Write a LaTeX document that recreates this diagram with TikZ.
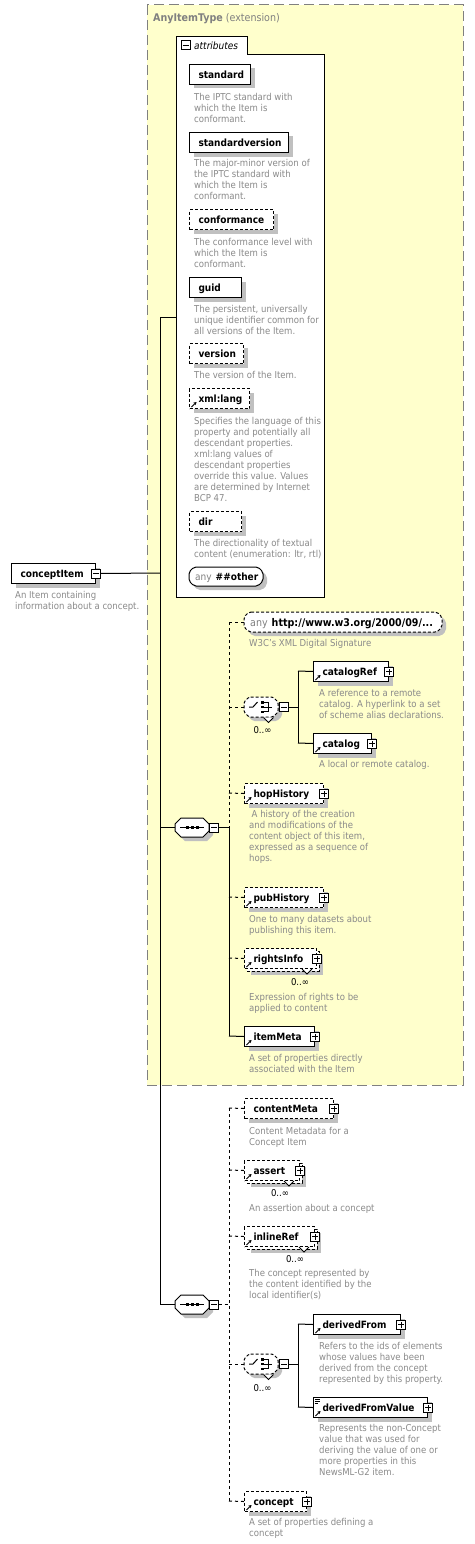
\documentclass[tikz,border=0pt]{standalone}
\usepackage{fontspec}
\setmainfont{DejaVu Sans Condensed}
\usetikzlibrary{shadows,arrows.meta,fit}
\definecolor{ylw}{HTML}{FFFFCC}
\definecolor{shd}{HTML}{C0C0C0}
\definecolor{dtxt}{HTML}{8A8A8A}
\definecolor{frm}{HTML}{808080}
\newcommand\ttlfont{\fontsize{10}{12}\selectfont\bfseries}
\newcommand\dscfont{\fontsize{9.5}{11}\selectfont}
\pgfdeclarelayer{yel}
\pgfdeclarelayer{lines}
\pgfsetlayers{yel,lines,main}
\tikzset{
 shadowed/.style={general shadow={fill=shd, shadow xshift=4pt, shadow yshift=-4pt}},
 elem/.style={draw, fill=white, line width=1pt, inner xsep=9pt, inner ysep=0pt, text height=9pt, text depth=1pt, font=\ttlfont, align=left, anchor=north west},
 opt/.style={dash pattern=on 3pt off 2pt},
 dsc/.style={inner sep=0pt, anchor=north west, align=left, font=\dscfont, text=dtxt},
 conn/.style={line width=1pt},
 oconn/.style={line width=1pt, dash pattern=on 3pt off 3pt},
 pm/.style={draw, fill=white, line width=1pt, minimum size=9pt, inner sep=0pt, outer sep=0pt},
 plusic/.style={pm, path picture={\draw[line width=1pt] ([xshift=-3pt]path picture bounding box.center) -- ([xshift=3pt]path picture bounding box.center) ([yshift=-3pt]path picture bounding box.center) -- ([yshift=3pt]path picture bounding box.center);}},
 minusic/.style={pm, path picture={\draw[line width=1pt] ([xshift=-3pt]path picture bounding box.center) -- ([xshift=3pt]path picture bounding box.center);}},
 occ/.style={inner sep=0pt, anchor=base, font=\dscfont, text=black},
}
% [style]{name}{x1}{y1}{x2}{y2}{text}
\newcommand\mkelem[7][shadowed]{%
 \pgfmathsetmacro\ww{#5-#3}\pgfmathsetmacro\hh{#6-#4}\pgfmathsetmacro\tw{#5-#3-18}%
 \node[elem,#1,minimum width=\ww pt,minimum height=\hh pt,text width=\tw pt] (#2) at (#3,#4) {#7};}
% {name}{x}{baseline}{text}
\newcommand\mkdesc[4]{\node[dsc] (#1) at (#2,#3-7.5) {\rule{0pt}{7.5pt}#4};}
% {name}{x1}{y1}{x2}{y2}{chamfer}{style}
\newcommand\mkocta[7]{%
 \draw[line width=1pt, fill=white, #7] (#2+#6,#3) -- (#4-#6,#3) -- (#4,#3+#6) -- (#4,#5-#6) -- (#4-#6,#5) -- (#2+#6,#5) -- (#2,#5-#6) -- (#2,#3+#6) -- cycle;
 \node[inner sep=0pt, outer sep=0pt, fit={(#2,#3) (#4,#5)}] (#1) {};}
% back box of a repeated element {x1}{y1}{x2}{y2}
\newcommand\mkback[4]{\draw[line width=1pt, opt, fill=white, shadowed] (#1+3,#2+3) rectangle (#3+3,#4+3);}
% notch {cx}{ytop}
\newcommand\mknotch[2]{\fill[white] (#1-5,#2+0.5) -- (#1+5,#2+0.5) -- (#1,#2+5.5) -- cycle;
 \draw[line width=0.8pt] (#1-5,#2+0.5) -- (#1,#2+5.5) -- (#1+5,#2+0.5);}
% reference arrow {node}
\newcommand\mkref[1]{\draw[line width=1pt,-{Stealth[length=3pt,width=3.5pt]}] ([shift={(2.5,-2)}]#1.south west) -- ([shift={(7.5,-7)}]#1.south west);}
\newcommand\seqglyph[2]{\draw[line width=1pt] (#1-12,#2) -- (#1+12,#2);
 \foreach \dx in {-5,0,5} {\fill (#1+\dx-1.5,#2-1.5) rectangle (#1+\dx+1.5,#2+1.5);}}
\newcommand\choiceglyph[2]{\draw[line width=1pt] (#1-12,#2) -- (#1-8,#2) -- (#1-3.5,#2-5);
 \fill (#1-0.5,#2-6) rectangle (#1+2.5,#2-3.5);
 \fill (#1-0.5,#2-1.3) rectangle (#1+2.5,#2+1.3);
 \fill (#1-0.5,#2+3.5) rectangle (#1+2.5,#2+6);
 \draw[line width=1pt] (#1+3,#2-4.5) -- (#1+7,#2-4.5) -- (#1+7,#2+4.5) -- (#1+3,#2+4.5) (#1+3,#2) -- (#1+11,#2);}
\begin{document}
\begin{tikzpicture}[x=1pt,y=-1pt]
\useasboundingbox (0,0) rectangle (474,1544);
\begin{pgfonlayer}{yel}
\draw[frm, line width=1pt, dash pattern=on 10pt off 5pt, fill=ylw] (147,5) rectangle (463,1085);
\end{pgfonlayer}
\node[anchor=base west, inner sep=0pt, text=frm, font=\fontsize{10.6}{12}\selectfont] (exttitle) at (153,21.5) {\textbf{AnyItemType} (extension)};

% attributes frame
\draw[line width=1pt, fill=white] (176,37) -- (247,37) -- (247,55) -- (324,55) -- (324,597) -- (176,597) -- cycle;
\node[minusic] (attrmin) at (185.5,45.5) {};
\node[anchor=base west, inner sep=0pt, font=\fontsize{10}{12}\selectfont\itshape] (attrlbl) at (194,49.5) {attributes};
\coordinate (attrjoin) at (176,317);

\mkelem{standard}{189}{64}{250}{84}{standard}
\mkdesc{dstandard}{194}{100}{The IPTC standard with\\which the Item is\\conformant.}
\mkelem{stdver}{189}{132}{288}{152}{standardversion}
\mkdesc{dstdver}{194}{166.5}{The major-minor version of\\the IPTC standard with\\which the Item is\\conformant.}
\mkelem[opt,shadowed]{conformance}{189}{209}{273}{229}{conformance}
\mkdesc{dconf}{194}{245.5}{The conformance level with\\which the Item is\\conformant.}
\mkelem{guid}{189}{277}{241}{297}{guid}
\mkdesc{dguid}{194}{312}{The persistent, universally\\unique identifier common for\\all versions of the Item.}
\mkelem[opt,shadowed]{version}{189}{343}{243}{363}{version}
\mkdesc{dversion}{194}{378}{The version of the Item.}
\mkelem[opt,shadowed]{xmllang}{189}{388}{249}{408}{xml:lang}
\mkref{xmllang}
\mkdesc{dxmllang}{194}{424}{Specifies the language of this\\property and potentially all\\descendant properties.\\xml:lang values of\\descendant properties\\override this value. Values\\are determined by Internet\\BCP 47.}
\mkelem[opt,shadowed]{dir}{189}{511}{241}{531}{dir}
\mkdesc{ddir}{194}{546}{The directionality of textual\\content (enumeration: ltr, rtl)}
\mkocta{anyoth}{189}{567}{263}{586}{5}{shadowed,rounded corners=2pt}
\node[anchor=base west, inner sep=0pt, font=\ttlfont] (anyotht) at (195,580.5) {\textcolor{frm}{\mdseries any}\hspace{4pt}\#\#other};

% root
\mkelem{ci}{11}{563}{95}{583}{conceptItem}
\node[minusic] (cim) at (ci.east) {};
\mkdesc{dci}{15}{598}{An Item containing\\information about a concept.}

% sequence 1
\mkocta{seqa}{175}{818}{209}{837}{6}{shadowed}
\seqglyph{192}{827.5}
\node[minusic] (seqam) at (214,827.5) {};

\mkocta{anysig}{244}{612}{442}{632}{5}{opt,shadowed,rounded corners=2pt}
\node[anchor=base west, inner sep=0pt, font=\fontsize{10.6}{12}\selectfont\bfseries] (anysigt) at (250,626) {\textcolor{frm}{\mdseries any}\hspace{4pt}http://www.w3.org/2000/09/...};
\mkdesc{danysig}{249}{646}{W3C's XML Digital Signature}

\mkocta{cha}{244}{697}{278}{717}{5}{opt,shadowed,rounded corners=1.5pt}
\mknotch{268.5}{717}
\choiceglyph{261}{707}
\node[minusic] (cham) at (284,707) {};
\node[occ] (occcha) at (262.5,733) {0..∞};

\mkelem{catalogRef}{313}{661}{388}{681}{catalogRef}
\node[plusic] (catalogRefp) at (catalogRef.east) {};
\mkref{catalogRef}
\mkdesc{dcatalogRef}{319}{696}{A reference to a remote\\catalog. A hyperlink to a set\\of scheme alias declarations.}
\mkelem{catalog}{313}{733}{371}{753}{catalog}
\node[plusic] (catalogp) at (catalog.east) {};
\mkref{catalog}
\mkdesc{dcatalog}{319}{767}{A local or remote catalog.}

\mkelem[opt,shadowed]{hopHistory}{244}{783}{323}{803}{hopHistory}
\node[plusic] (hopHistoryp) at (hopHistory.east) {};
\mkref{hopHistory}
\mkdesc{dhopHistory}{249}{817}{\hspace{2.5pt}A history of the creation\\and modifications of the\\content object of this item,\\expressed as a sequence of\\hops.}

\mkelem[opt,shadowed]{pubHistory}{244}{887}{323}{907}{pubHistory}
\node[plusic] (pubHistoryp) at (pubHistory.east) {};
\mkref{pubHistory}
\mkdesc{dpubHistory}{249}{922}{One to many datasets about\\publishing this item.}

\mkback{244}{948}{316}{968}
\mkelem[opt]{rightsInfo}{244}{948}{316}{968}{rightsInfo}
\mknotch{307}{968.5}
\node[plusic] (rightsInfop) at (rightsInfo.east) {};
\mkref{rightsInfo}
\node[occ] (occri) at (300,985) {0..∞};
\mkdesc{drightsInfo}{249}{1000}{Expression of rights to be\\applied to content}

\mkelem{itemMeta}{244}{1026}{314}{1046}{itemMeta}
\node[plusic] (itemMetap) at (itemMeta.east) {};
\mkref{itemMeta}
\mkdesc{ditemMeta}{249}{1061}{A set of properties directly\\associated with the Item}

% sequence 2
\mkocta{seqb}{175}{1295}{209}{1314}{6}{shadowed}
\seqglyph{192}{1304.5}
\node[minusic] (seqbm) at (214,1304.5) {};

\mkelem[opt,shadowed]{contentMeta}{244}{1098}{333}{1118}{contentMeta}
\node[plusic] (contentMetap) at (contentMeta.east) {};
\mkdesc{dcontentMeta}{249}{1134}{Content Metadata for a\\Concept Item}

\mkback{244}{1160}{299}{1180}
\mkelem[opt]{assert}{244}{1160}{299}{1180}{assert}
\mknotch{289}{1180.5}
\node[plusic] (assertp) at (assert.east) {};
\mkref{assert}
\node[occ] (occas) at (280,1196) {0..∞};
\mkdesc{dassert}{249}{1211}{An assertion about a concept}

\mkback{244}{1226}{314}{1246}
\mkelem[opt]{inlineRef}{244}{1226}{314}{1246}{inlineRef}
\mknotch{304}{1246.5}
\node[plusic] (inlineRefp) at (inlineRef.east) {};
\mkref{inlineRef}
\node[occ] (occir) at (295,1262) {0..∞};
\mkdesc{dinlineRef}{249}{1276}{The concept represented by\\the content identified by the\\local identifier(s)}

\mkocta{chb}{244}{1354}{278}{1374}{5}{opt,shadowed,rounded corners=1.5pt}
\mknotch{268.5}{1374}
\choiceglyph{261}{1364}
\node[minusic] (chbm) at (284,1364) {};
\node[occ] (occchb) at (262.5,1391) {0..∞};

\mkelem{derivedFrom}{313}{1314}{400}{1334}{derivedFrom}
\node[plusic] (derivedFromp) at (derivedFrom.east) {};
\mkref{derivedFrom}
\mkdesc{dderivedFrom}{319}{1349}{Refers to the ids of elements\\whose values have been\\derived from the concept\\represented by this property.}

\mkelem{derivedFromValue}{313}{1397}{427}{1417}{derivedFromValue}
\node[plusic] (derivedFromValuep) at (derivedFromValue.east) {};
\mkref{derivedFromValue}
\draw[line width=0.8pt] (314.5,1399.5) -- (320,1399.5) (314.5,1401.5) -- (320,1401.5) (314.5,1403.5) -- (318,1403.5);
\mkdesc{dderivedFromValue}{319}{1431}{Represents the non-Concept\\value that was used for\\deriving the value of one or\\more properties in this\\NewsML-G2 item.}

\mkelem[opt,shadowed]{concept}{244}{1491}{306}{1511}{concept}
\node[plusic] (conceptp) at (concept.east) {};
\mkref{concept}
\mkdesc{dconcept}{249}{1525}{A set of properties defining a\\concept}

% connectors
\coordinate (t0top) at (160,317);
\coordinate (t0ci) at (160,573);
\coordinate (t0s1) at (160,827.5);
\coordinate (t0s2) at (160,1304.5);
\coordinate (sa) at (229,827.5);
\coordinate (satop) at (229,622);
\coordinate (sabot) at (229,1036);
\coordinate (sb) at (229,1304.5);
\coordinate (sbtop) at (229,1108);
\coordinate (sbbot) at (229,1501);
\coordinate (ca) at (298,707);
\coordinate (catop) at (298,671);
\coordinate (cabot) at (298,743);
\coordinate (cb) at (298,1364);
\coordinate (cbtop) at (298,1324);
\coordinate (cbbot) at (298,1407);
\begin{pgfonlayer}{lines}
\draw[conn] (cim.east) -- (t0ci);
\draw[conn] (t0top) -- (t0s2);
\draw[conn] (t0top) -- (attrjoin);
\draw[conn] (t0s1) -- (seqa.west);
\draw[conn] (t0s2) -- (seqb.west);
% sequence 1
\draw[conn] (seqam.east) -- (sa);
\draw[oconn] (satop) -- (sa);
\draw[conn] (sa) -- (sabot);
\draw[oconn] (satop) -- (anysig.west);
\draw[oconn] (229,707) -- (cha.west);
\draw[oconn] (229,793) -- (hopHistory.west);
\draw[oconn] (229,897) -- (pubHistory.west);
\draw[oconn] (229,958) -- (rightsInfo.west);
\draw[conn] (sabot) -- (itemMeta.west);
\draw[conn] (cham.east) -- (ca);
\draw[conn] (catop) -- (cabot);
\draw[conn] (catop) -- (catalogRef.west);
\draw[conn] (cabot) -- (catalog.west);
% sequence 2
\draw[oconn] (seqbm.east) -- (sb);
\draw[oconn] (sbtop) -- (sbbot);
\draw[oconn] (sbtop) -- (contentMeta.west);
\draw[oconn] (229,1170) -- (assert.west);
\draw[oconn] (229,1236) -- (inlineRef.west);
\draw[oconn] (229,1364) -- (chb.west);
\draw[oconn] (sbbot) -- (concept.west);
\draw[conn] (chbm.east) -- (cb);
\draw[conn] (cbtop) -- (cbbot);
\draw[conn] (cbtop) -- (derivedFrom.west);
\draw[conn] (cbbot) -- (derivedFromValue.west);
\end{pgfonlayer}
\end{tikzpicture}
\end{document}
